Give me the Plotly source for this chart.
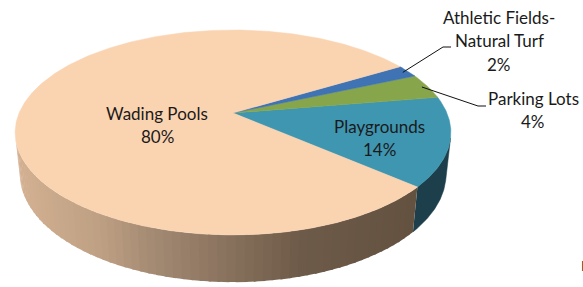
import numpy as np
import plotly.graph_objects as go

# ---- data ----
categories = ["Playgrounds", "Parking Lots", "Athletic Fields-Natural Turf", "Wading Pools"]
values = [14, 4, 2, 80]
label_lines = [["Playgrounds"], ["Parking Lots"], ["Athletic Fields-", "Natural Turf"], ["Wading Pools"]]
top_colors = ["#3f96b1", "#87a64b", "#3f73b3", "#fad3b1"]
side_colors = ["#1d3f4b", "#55702d", "#2a4d78", None]  # None -> gradient

# ---- 3D pie geometry (perspective projection) ----
CX, CY = 233.0, 113.0
F, D = 999.0, 4.67
PHI = np.radians(27.5)
S, C = np.sin(PHI), np.cos(PHI)
H = 0.221
START = -41.0  # degrees, counter-clockwise


def proj(theta_deg, h=0.0, r=1.0):
    t = np.radians(np.asarray(theta_deg, dtype=float))
    x = r * np.cos(t)
    d = r * np.sin(t)
    v = d * S + h * C
    w = d * C - h * S
    U = F * x / (D + w)
    V = F * v / (D + w)
    return CX + U, CY - V


vals = np.array(values, dtype=float)
fr = vals / vals.sum()
edges = START + 360.0 * np.concatenate([[0], np.cumsum(fr)])

sil = np.degrees(np.arcsin(1.0 / (D * C)))
vis_a, vis_b = 180.0 + sil, 360.0 - sil

fig = go.Figure()


def add_poly(xs, ys, color, lw=0.0):
    fig.add_trace(go.Scatter(x=list(xs), y=list(ys), mode="lines", fill="toself",
                             fillcolor=color, line=dict(color=color, width=lw),
                             hoverinfo="skip", showlegend=False))


grad_stops_x = [15, 100, 150, 300, 418]
grad_stops_c = [(212, 177, 146), (190, 160, 132), (165, 139, 116), (110, 91, 73), (100, 82, 65)]


def grad_color(xp):
    r = np.interp(xp, grad_stops_x, [c[0] for c in grad_stops_c])
    g = np.interp(xp, grad_stops_x, [c[1] for c in grad_stops_c])
    b = np.interp(xp, grad_stops_x, [c[2] for c in grad_stops_c])
    return "rgb(%d,%d,%d)" % (r, g, b)


# side walls
for i in range(len(values)):
    a0, a1 = edges[i], edges[i + 1]
    for shift in (-360, 0, 360):
        lo = max(a0 + shift, vis_a)
        hi = min(a1 + shift, vis_b)
        if hi <= lo:
            continue
        if side_colors[i] is None:
            n = int(max(2, (hi - lo) / 2))
            ts = np.linspace(lo, hi, n + 1)
            for k in range(n):
                # slight overlap with the next strip to hide seams
                t_end = min(ts[k + 1] + 0.6, hi)
                tt = np.linspace(ts[k], t_end, 4)
                xt, yt = proj(tt, 0.0)
                xb, yb = proj(tt[::-1], -H)
                xm, _ = proj((ts[k] + ts[k + 1]) / 2, 0.0)
                add_poly(np.concatenate([xt, xb]), np.concatenate([yt, yb]), grad_color(xm), 0)
        else:
            tt = np.linspace(lo, hi, 60)
            xt, yt = proj(tt, 0.0)
            xb, yb = proj(tt[::-1], -H)
            add_poly(np.concatenate([xt, xb]), np.concatenate([yt, yb]), side_colors[i], 0.5)

# top faces
for i in range(len(values)):
    tt = np.linspace(edges[i], edges[i + 1], max(8, int((edges[i + 1] - edges[i]) * 2)))
    xa, ya = proj(tt, 0.0)
    add_poly(np.concatenate([[CX], xa, [CX]]), np.concatenate([[CY], ya, [CY]]), top_colors[i], 0.5)

# ---- labels ----
FONT = dict(family="Lato, Open Sans, sans-serif", size=17, color="#1a1a1a")
label_pos = {
    "Playgrounds": (379, 126, None),
    "Wading Pools": (157, 113, None),
    "Parking Lots": (533, 98, (486, 106)),
    "Athletic Fields-Natural Turf": (499, 17, (451, 47)),
}
LINE_H = 23.5
for i, cat in enumerate(categories):
    lx, ly, leader = label_pos[cat]
    lines = label_lines[i] + ["%d%%" % values[i]]
    for j, t in enumerate(lines):
        fig.add_annotation(x=lx, y=ly + j * LINE_H, text=t, showarrow=False,
                           xanchor="center", yanchor="middle", font=FONT)
    if leader is not None:
        mid = (edges[i] + edges[i + 1]) / 2
        sx, sy = proj(mid, 0.0, 0.97)
        ex, ey = leader
        fig.add_trace(go.Scatter(x=[sx, ex - 8, ex], y=[sy, ey, ey], mode="lines",
                                 line=dict(color="#111111", width=1),
                                 hoverinfo="skip", showlegend=False))

fig.add_annotation(x=579, y=265, text="E", showarrow=False, xanchor="left",
                   yanchor="middle", font=dict(family="Lato, sans-serif", size=14, color="#222"))

fig.update_layout(
    width=583, height=287, margin=dict(l=0, r=0, t=0, b=0),
    paper_bgcolor="white", plot_bgcolor="white",
    xaxis=dict(range=[0, 583], visible=False, fixedrange=True),
    yaxis=dict(range=[287, 0], visible=False, fixedrange=True),
    hovermode=False, showlegend=False,
)
fig.write_html("out.html", config={"displayModeBar": False},
               post_script="document.body.style.margin='0';document.body.style.overflow='hidden';")
